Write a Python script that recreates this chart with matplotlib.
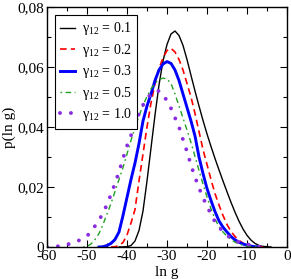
import matplotlib
matplotlib.use("Agg")
import matplotlib.pyplot as plt
from matplotlib.ticker import MultipleLocator, FuncFormatter

plt.rcParams['font.family'] = ['Liberation Serif', 'DejaVu Serif']
plt.rcParams['mathtext.fontset'] = 'custom'
plt.rcParams['mathtext.rm'] = 'Liberation Serif'
plt.rcParams['mathtext.it'] = 'Liberation Serif:italic'

# ---- data ----
x_g01 = [-42, -40, -39, -38, -37, -36, -35, -34, -33, -32, -31, -30, -29, -28, -27, -26, -25, -24, -23, -22,
         -21, -20, -19, -18, -17, -16, -15, -14, -13, -12, -11, -10, -9, -8, -7, -6, -5, -4]
y_g01 = [0, 0.0001, 0.0005, 0.002, 0.0055, 0.012, 0.022, 0.033, 0.044, 0.054, 0.062, 0.0675, 0.0710, 0.0720,
         0.0705, 0.0672, 0.0625, 0.0572, 0.0520, 0.0470, 0.0422, 0.0377, 0.0335, 0.0295, 0.0257, 0.0220,
         0.0184, 0.0149, 0.0116, 0.0086, 0.0060, 0.0039, 0.0023, 0.0012, 0.0005, 0.0002, 0.0001, 0]

x_g02 = [-44, -43, -42, -41, -40, -39, -38, -37, -36, -35, -34, -33, -32, -31, -30, -29, -28, -27, -26, -25,
         -24, -23, -22, -21, -20, -19, -18, -17, -16, -15, -14, -13, -12, -11, -10, -9, -8, -6]
y_g02 = [0, 0.0001, 0.0005, 0.0015, 0.004, 0.008, 0.0125, 0.022, 0.031, 0.040, 0.048, 0.0545, 0.0595, 0.063,
         0.0655, 0.0662, 0.0650, 0.0625, 0.0590, 0.0545, 0.0500, 0.0445, 0.0385, 0.0325, 0.0275, 0.0225,
         0.0178, 0.0140, 0.0105, 0.0075, 0.0052, 0.0035, 0.0022, 0.0013, 0.0007, 0.0003, 0.0001, 0]

x_g03 = [-47, -46, -45, -44, -43, -42, -41, -40, -39, -38, -37, -36, -35, -34, -33, -32, -31, -30, -29, -28,
         -27, -26, -25, -24, -23, -22, -21, -20, -19, -18, -17, -16, -15, -14, -13, -12, -11, -10, -9, -8, -7]
y_g03 = [0, 0.0001, 0.0005, 0.0012, 0.0025, 0.005, 0.0105, 0.0165, 0.0225, 0.028, 0.0345, 0.042, 0.047,
         0.051, 0.0555, 0.059, 0.061, 0.0618, 0.0612, 0.059, 0.0555, 0.051, 0.0465, 0.042, 0.037, 0.030,
         0.0245, 0.0195, 0.0155, 0.0118, 0.0087, 0.0066, 0.0050, 0.0035, 0.0024, 0.0016, 0.0010, 0.0006,
         0.0003, 0.0001, 0]

x_g05 = [-51, -50, -49, -48, -47, -46, -45, -44, -43, -42, -41, -40, -39, -38, -37, -36, -35, -34, -33, -32,
         -31, -30, -29, -28, -27, -26, -25, -24, -23, -22, -21, -20, -19, -18, -17, -16, -15, -14, -13, -12,
         -11, -10, -8, -7]
y_g05 = [0, 0.0002, 0.001, 0.0025, 0.0045, 0.0075, 0.011, 0.0145, 0.0185, 0.0225, 0.0265, 0.031, 0.0355,
         0.0398, 0.0437, 0.0472, 0.0502, 0.0527, 0.0546, 0.0558, 0.0563, 0.0560, 0.0545, 0.0510, 0.0470,
         0.0430, 0.0390, 0.0348, 0.0302, 0.0255, 0.0210, 0.0167, 0.0127, 0.0093, 0.0068, 0.0050, 0.0036,
         0.0025, 0.0016, 0.0010, 0.0006, 0.0003, 0.0001, 0]

x_g10 = [-60, -58, -56, -55, -54, -53, -52, -51, -50, -49, -48, -47, -46, -45, -44, -43, -42, -41, -40, -39,
         -38, -37, -36, -35, -34, -33, -32, -31, -30, -29, -28, -27, -26, -25, -24, -23, -22, -21, -20, -19,
         -18, -17, -16, -15, -14, -13, -12, -11, -10, -9, -8, -7, -6]
y_g10 = [0, 0.0001, 0.0005, 0.0008, 0.0012, 0.0016, 0.0022, 0.0028, 0.0037, 0.0050, 0.0070, 0.0090, 0.0112,
         0.0142, 0.0175, 0.0212, 0.0250, 0.0295, 0.0337, 0.0372, 0.0410, 0.0445, 0.0473, 0.0495, 0.0510,
         0.0520, 0.0520, 0.0508, 0.0487, 0.0462, 0.0431, 0.0400, 0.0358, 0.0318, 0.0273, 0.0233, 0.0197,
         0.0165, 0.0135, 0.0110, 0.0084, 0.0066, 0.0052, 0.0040, 0.0028, 0.0022, 0.0016, 0.0012, 0.0009,
         0.0006, 0.0003, 0.0001, 0]

labels = ["0.1", "0.2", "0.3", "0.5", "1.0"]
x_ticks = [-60, -50, -40, -30, -20, -10, 0]
y_ticks = [0, 0.02, 0.04, 0.06, 0.08]

fig = plt.figure(figsize=(2.91, 2.79), dpi=100)
ax = fig.add_axes([47/291, 32/279, 240/291, 240/279])

def lab(v):
    return r'$\mathrm{γ}_{12}$ = ' + v

ax.plot(x_g01, y_g01, color='black', lw=1.0, label=lab(labels[0]))
ax.plot(x_g02, y_g02, color='#ff0000', lw=1.2, dashes=(4.0, 2.5), label=lab(labels[1]))
ax.plot(x_g03, y_g03, color='#0000ff', lw=2.1, label=lab(labels[2]))
ax.plot(x_g05, y_g05, color='#22a022', lw=1.0, dashes=(1.2, 2.5, 4.0, 2.5), label=lab(labels[3]))
ax.plot(x_g10, y_g10, color='#8a2be2', lw=2.8, dashes=(0.01, 2.8), dash_capstyle='round',
        label=lab(labels[4]))

ax.set_xlim(-60, 0)
ax.set_ylim(0, 0.08)
ax.set_xticks(x_ticks)
ax.set_yticks(y_ticks)
ax.xaxis.set_minor_locator(MultipleLocator(5))
ax.yaxis.set_minor_locator(MultipleLocator(0.01))

def yfmt(v, pos):
    if abs(v) < 1e-12:
        return "0"
    return ("%.2f" % v).replace('.', ',')

def xfmt(v, pos):
    return "%d" % round(v)

ax.yaxis.set_major_formatter(FuncFormatter(yfmt))
ax.xaxis.set_major_formatter(FuncFormatter(xfmt))
ax.tick_params(which='both', direction='in', top=True, right=True, labelsize=11, pad=2)
ax.tick_params(which='major', length=5, width=0.8)
ax.tick_params(which='minor', length=3, width=0.8)
for s in ax.spines.values():
    s.set_linewidth(1.0)

ax.set_xlabel("ln g", fontsize=11, labelpad=2)
ax.set_ylabel("p(ln g)", fontsize=11, labelpad=1)

leg = ax.legend(loc='upper left', bbox_to_anchor=(0.033, 0.967), borderaxespad=0, fontsize=10,
                handlelength=1.05, handletextpad=0.5, labelspacing=0.32, borderpad=0.4,
                fancybox=False, framealpha=1, edgecolor='black')
leg.get_frame().set_linewidth(0.8)

fig.savefig("out.png", dpi=100)
